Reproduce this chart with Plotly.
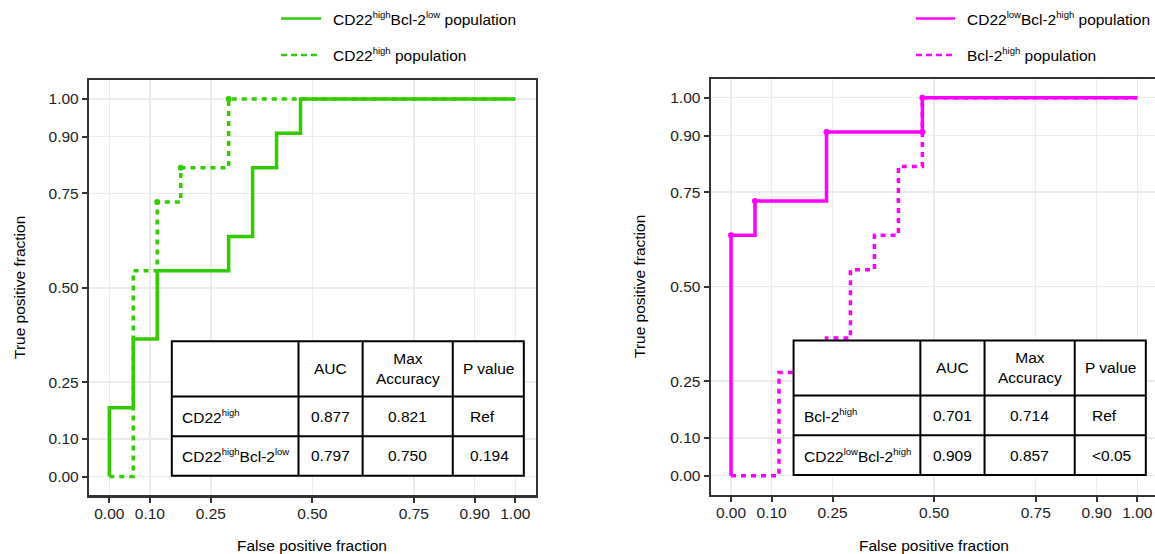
import plotly.graph_objects as go

# ---------------- data ----------------
tick_vals = [0.0, 0.10, 0.25, 0.50, 0.75, 0.90, 1.0]
tick_text = ["0.00", "0.10", "0.25", "0.50", "0.75", "0.90", "1.00"]

# Left panel: CD22 markers
green_solid_fpr = [0.0, 0.0, 0.059, 0.118, 0.294, 0.353, 0.412, 0.471, 1.0]
green_solid_tpr = [0.0, 0.182, 0.364, 0.545, 0.636, 0.818, 0.909, 1.0, 1.0]
green_dash_fpr = [0.0, 0.059, 0.118, 0.176, 0.294, 1.0]
green_dash_tpr = [0.0, 0.545, 0.727, 0.818, 1.0, 1.0]
green_dash_cut_fpr = [0.118, 0.176, 0.294]
green_dash_cut_tpr = [0.727, 0.818, 1.0]

# Right panel: Bcl-2 markers
magenta_solid_fpr = [0.0, 0.0, 0.059, 0.235, 0.471, 1.0]
magenta_solid_tpr = [0.0, 0.636, 0.727, 0.909, 1.0, 1.0]
magenta_dash_fpr = [0.0, 0.118, 0.235, 0.294, 0.353, 0.412, 0.471, 1.0]
magenta_dash_tpr = [0.0, 0.273, 0.364, 0.545, 0.636, 0.818, 1.0, 1.0]
magenta_solid_cut_fpr = [0.0, 0.059, 0.235, 0.471, 0.471]
magenta_solid_cut_tpr = [0.636, 0.727, 0.909, 0.909, 1.0]

SUP_H = '<sup><span style="font-size:9.5px">high</span></sup>'
SUP_L = '<sup><span style="font-size:9.5px">low</span></sup>'

left_legend = ["CD22" + SUP_H + "Bcl-2" + SUP_L + " population", "CD22" + SUP_H + " population"]
right_legend = ["CD22" + SUP_L + "Bcl-2" + SUP_H + " population", "Bcl-2" + SUP_H + " population"]

table_header = ["", "AUC", "Max<br>Accuracy", "P value"]
left_table_rows = [
    ["CD22" + SUP_H, "0.877", "0.821", "Ref"],
    ["CD22" + SUP_H + "Bcl-2" + SUP_L, "0.797", "0.750", "0.194"],
]
right_table_rows = [
    ["Bcl-2" + SUP_H, "0.701", "0.714", "Ref"],
    ["CD22" + SUP_L + "Bcl-2" + SUP_H, "0.909", "0.857", "<0.05"],
]

# ---------------- style ----------------
W, H = 1155, 554
GREEN = "#33CC00"
MAGENTA = "#FF00FF"
FONT = "Liberation Sans, Arial, sans-serif"
FS = 15.5
DASH = "5px,5px"
LW = 3.5

# table cell edges in data coordinates
tab_x = [0.154, 0.466, 0.624, 0.846, 1.021]
tab_y = [0.358, 0.212, 0.107, 0.002]


def px(x):
    return x / W


def py(y):
    return 1 - y / H


fig = go.Figure()


def add_curves(fpr_s, tpr_s, fpr_d, tpr_d, cut_x, cut_y, color, xa, ya):
    fig.add_trace(go.Scatter(x=fpr_d, y=tpr_d, mode="lines", line_shape="hv",
                             line=dict(color=color, width=LW, dash=DASH),
                             xaxis=xa, yaxis=ya, showlegend=False, hoverinfo="skip"))
    fig.add_trace(go.Scatter(x=fpr_s, y=tpr_s, mode="lines", line_shape="hv",
                             line=dict(color=color, width=LW),
                             xaxis=xa, yaxis=ya, showlegend=False, hoverinfo="skip"))
    fig.add_trace(go.Scatter(x=cut_x, y=cut_y, mode="markers",
                             marker=dict(color=color, size=6, line=dict(width=0)),
                             xaxis=xa, yaxis=ya, showlegend=False, hoverinfo="skip"))


add_curves(green_solid_fpr, green_solid_tpr, green_dash_fpr, green_dash_tpr,
           green_dash_cut_fpr, green_dash_cut_tpr, GREEN, "x", "y")
add_curves(magenta_solid_fpr, magenta_solid_tpr, magenta_dash_fpr, magenta_dash_tpr,
           magenta_solid_cut_fpr, magenta_solid_cut_tpr, MAGENTA, "x2", "y2")

axis_common = dict(
    tickvals=tick_vals, ticktext=tick_text, showgrid=True, gridcolor="#EBEBEB",
    gridwidth=1.5, zeroline=False, showline=True, linecolor="#333333", linewidth=2.2,
    ticks="outside", ticklen=5, tickwidth=2, tickcolor="#333333",
    tickfont=dict(family=FONT, size=FS, color="#222222"), fixedrange=True,
)

fig.update_layout(
    width=W, height=H, margin=dict(l=0, r=0, t=0, b=0),
    paper_bgcolor="white", plot_bgcolor="white", showlegend=False,
    xaxis=dict(axis_common, domain=[px(89.0), px(535.6)], range=[-0.05, 1.05],
               mirror=True, anchor="y", ticklabelstandoff=-2),
    yaxis=dict(axis_common, domain=[py(495.4), py(80.1)], range=[-0.05, 1.05],
               mirror=True, anchor="x"),
    xaxis2=dict(axis_common, domain=[px(710.7), 1.0], range=[-0.05, 1.0436],
                mirror=True, anchor="y2", ticklabelstandoff=-2),
    yaxis2=dict(axis_common, domain=[py(494.6), py(78.8)], range=[-0.05, 1.05],
                mirror=False, anchor="x2"),
)

shapes = []
annotations = []

# ---------- tables ----------
def add_table(rows, xr, yr):
    shapes.append(dict(type="rect", xref=xr, yref=yr, x0=tab_x[0], x1=tab_x[-1],
                       y0=tab_y[-1], y1=tab_y[0], fillcolor="white",
                       line=dict(color="black", width=2), layer="above"))
    for xv in tab_x[1:-1]:
        shapes.append(dict(type="line", xref=xr, yref=yr, x0=xv, x1=xv,
                           y0=tab_y[-1], y1=tab_y[0], line=dict(color="black", width=2)))
    for yv in tab_y[1:-1]:
        shapes.append(dict(type="line", xref=xr, yref=yr, x0=tab_x[0], x1=tab_x[-1],
                           y0=yv, y1=yv, line=dict(color="black", width=2)))
    tf = dict(family=FONT, size=FS, color="black")
    for c, txt in enumerate(table_header):
        if not txt:
            continue
        annotations.append(dict(xref=xr, yref=yr, x=(tab_x[c] + tab_x[c + 1]) / 2,
                                y=(tab_y[0] + tab_y[1]) / 2, text=txt, showarrow=False,
                                font=tf, xanchor="center", yanchor="middle"))
    for r, row in enumerate(rows):
        yc = (tab_y[r + 1] + tab_y[r + 2]) / 2
        for c, txt in enumerate(row):
            if c == 0:
                annotations.append(dict(xref=xr, yref=yr, x=tab_x[0], xshift=8, y=yc,
                                        text=txt, showarrow=False, font=tf,
                                        xanchor="left", yanchor="middle"))
            elif c == 3:
                annotations.append(dict(xref=xr, yref=yr, x=tab_x[3], xshift=15, y=yc,
                                        text=txt, showarrow=False, font=tf,
                                        xanchor="left", yanchor="middle"))
            else:
                annotations.append(dict(xref=xr, yref=yr, x=(tab_x[c] + tab_x[c + 1]) / 2,
                                        y=yc, text=txt, showarrow=False, font=tf,
                                        xanchor="center", yanchor="middle"))


add_table(left_table_rows, "x", "y")
add_table(right_table_rows, "x2", "y2")

# ---------- legends ----------
lf = dict(family=FONT, size=FS, color="black")


def add_legend(labels, color, x0, x1, xt):
    for i, (lab, yy) in enumerate(zip(labels, [18.5, 55.0])):
        shapes.append(dict(type="line", xref="paper", yref="paper", x0=px(x0), x1=px(x1),
                           y0=py(yy), y1=py(yy),
                           line=dict(color=color, width=2.5, dash=None if i == 0 else "6px,4px")))
        annotations.append(dict(xref="paper", yref="paper", x=px(xt), y=py(yy), text=lab,
                                showarrow=False, font=lf, xanchor="left", yanchor="middle"))


add_legend(left_legend, GREEN, 281, 321, 331)
add_legend(right_legend, MAGENTA, 916, 955, 965)

# ---------- axis titles ----------
af = dict(family=FONT, size=FS, color="black")
for xc in [312.3, 934.2]:
    annotations.append(dict(xref="paper", yref="paper", x=px(xc), y=py(545.5),
                            text="False positive fraction", showarrow=False, font=af,
                            xanchor="center", yanchor="middle"))
for xc, yc in [(19, 288), (639, 287)]:
    annotations.append(dict(xref="paper", yref="paper", x=px(xc), y=py(yc),
                            text="True positive fraction", showarrow=False, font=af,
                            textangle=-90, xanchor="center", yanchor="middle"))

fig.update_layout(shapes=shapes, annotations=annotations)
fig.write_html(
    "out.html",
    config={"displayModeBar": False, "staticPlot": True},
    post_script="document.body.style.margin='0px';document.body.style.overflow='hidden';",
)
